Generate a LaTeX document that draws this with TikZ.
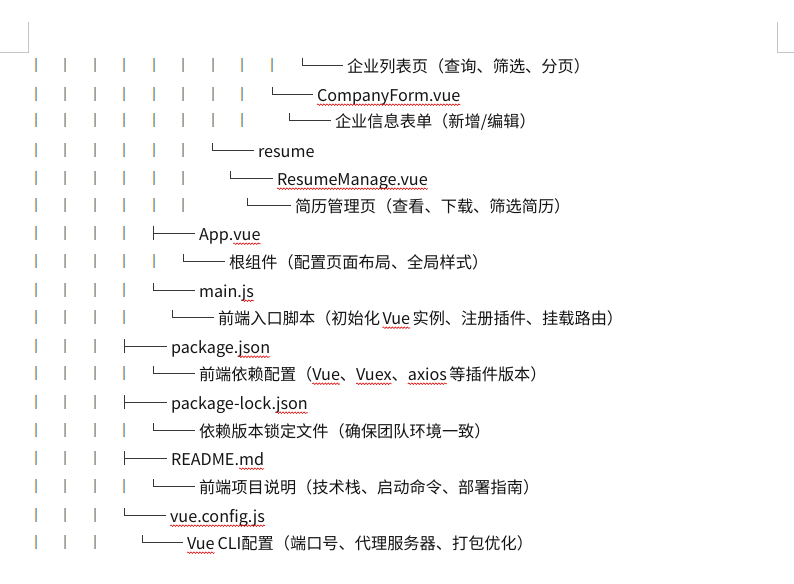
\documentclass[tikz,border=0pt]{standalone}
\usepackage{fontspec}
\setmainfont{Noto Sans CJK SC}
\newfontfamily\cjk{Noto Sans CJK SC}
\usetikzlibrary{calc,decorations.pathmorphing}
\definecolor{ink}{HTML}{141414}
\definecolor{barorange}{HTML}{F5A652}
\definecolor{barblue}{HTML}{5CB2F2}
\definecolor{wavered}{HTML}{E01010}
\definecolor{cornergray}{HTML}{C4C4C4}
\tikzset{
  x=1pt, y=-1pt,
  txt/.style={anchor=base west, inner sep=0pt, outer sep=0pt, text=ink,
    font=\cjk\fontsize{16.2}{19}\selectfont},
  conn/.style={draw=ink!85, line width=0.9pt},
  barO/.style={draw=barorange, line width=1pt},
  barB/.style={draw=barblue, line width=1pt},
  wavy/.style={draw=wavered, line width=0.6pt,
    decorate, decoration={snake, amplitude=0.8pt, segment length=3pt}},
  corner/.style={draw=cornergray, line width=1pt}
}
% bars: #1 = row centre y (image coords), #2 = number of bars
\newcommand{\rowbars}[2]{%
  \foreach \i in {1,...,#2}{%
    \pgfmathsetmacro{\bx}{35.6+29.52*(\i-1)}%
    \draw[barO] (\bx-0.5,#1-9) -- (\bx-0.5,#1+5.3);
    \draw[barB] (\bx+0.5,#1-9) -- (\bx+0.5,#1+5.3);
  }}
% elbow connector: #1 = corner x, #2 = row y, #3 = text node
\newcommand{\elbow}[3]{%
  \draw[conn] (#1,#2-9) |- ($(#3.base west)+(-4.5,-7.5)$);}
% tee connector
\newcommand{\tee}[3]{%
  \draw[conn] (#1,#2+5.3) -- (#1,#2-9);
  \draw[conn] (#1,#2-2) -- ($(#3.base west)+(-4.5,-7.5)$);}
\newcommand{\wav}[1]{%
  \draw[wavy] ($(#1.base west)+(0,3.2)$) -- ($(#1.base east)+(0,3.2)$);}
\begin{document}
\begin{tikzpicture}
\useasboundingbox (0,0) rectangle (794,583);
\fill[white] (0,0) rectangle (794,583);
% page corner marks
\draw[corner] (0,53) -- (28,53) -- (28,22);
\draw[corner] (794,53) -- (777,53) -- (777,22);

% row 1
\rowbars{67}{9}
\node[txt] (t1) at (347,72.5) {企业列表页（查询、筛选、分页）};
\elbow{302}{67}{t1}
% row 2
\rowbars{96}{8}
\node[txt] (t2) at (317,101.5) {CompanyForm.vue};
\elbow{272}{96}{t2}
\wav{t2}
% row 3
\rowbars{122}{8}
\node[txt] (t3) at (335,127.5) {企业信息表单（新增/编辑）};
\elbow{289}{122}{t3}
% row 4
\rowbars{152}{6}
\node[txt] (t4) at (258,157.5) {resume};
\elbow{212.5}{152}{t4}
% row 5
\rowbars{180}{6}
\node[txt] (t5) at (277,185.5) {ResumeManage.vue};
\elbow{230}{180}{t5}
\wav{t5}
% row 6
\rowbars{207}{6}
\node[txt] (t6) at (295,212.5) {简历管理页（查看、下载、筛选简历）};
\elbow{247}{207}{t6}
% row 7
\rowbars{235}{4}
\node[txt] (t7a) at (199,240.5) {App.};
\node[txt] (t7b) at (t7a.base east) {vue};
\tee{153.5}{235}{t7a}
\wav{t7b}
% row 8
\rowbars{263}{5}
\node[txt] (t8) at (229,268.5) {根组件（配置页面布局、全局样式）};
\elbow{183}{263}{t8}
% row 9
\rowbars{292}{4}
\node[txt] (t9a) at (199,297.5) {main.};
\node[txt] (t9b) at (t9a.base east) {js};
\elbow{153.5}{292}{t9a}
\wav{t9b}
% row 10
\rowbars{319}{4}
\node[txt] (t10a) at (218,324.5) {前端入口脚本（初始化};
\node[txt] (t10b) at ([xshift=2.5pt]t10a.base east) {Vue};
\node[txt] (t10c) at ([xshift=2.5pt]t10b.base east) {实例、注册插件、挂载路由）};
\elbow{172}{319}{t10a}
\wav{t10b}
% row 11
\rowbars{348}{3}
\node[txt] (t11a) at (171,353.5) {package.};
\node[txt] (t11b) at (t11a.base east) {json};
\tee{124}{348}{t11a}
\wav{t11b}
% row 12
\rowbars{375}{4}
\node[txt] (t12a) at (199,380.5) {前端依赖配置（};
\node[txt] (t12b) at (t12a.base east) {Vue};
\node[txt] (t12c) at (t12b.base east) {、};
\node[txt] (t12d) at (t12c.base east) {Vuex};
\node[txt] (t12e) at (t12d.base east) {、};
\node[txt] (t12f) at (t12e.base east) {axios};
\node[txt] (t12g) at ([xshift=2.5pt]t12f.base east) {等插件版本）};
\elbow{153.5}{375}{t12a}
\wav{t12b}
\wav{t12d}
\wav{t12f}
% row 13
\rowbars{404}{3}
\node[txt] (t13a) at (171,409.5) {package-lock.};
\node[txt] (t13b) at (t13a.base east) {json};
\tee{124}{404}{t13a}
\wav{t13b}
% row 14
\rowbars{432}{4}
\node[txt] (t14) at (199,437.5) {依赖版本锁定文件（确保团队环境一致）};
\elbow{153.5}{432}{t14}
% row 15
\rowbars{460}{3}
\node[txt] (t15a) at (171,465.5) {README.};
\node[txt] (t15b) at (t15a.base east) {md};
\tee{124}{460}{t15a}
\wav{t15b}
% row 16
\rowbars{488}{4}
\node[txt] (t16) at (199,493.5) {前端项目说明（技术栈、启动命令、部署指南）};
\elbow{153.5}{488}{t16}
% row 17
\rowbars{517}{3}
\node[txt] (t17) at (170,522.5) {vue.config.js};
\elbow{124}{517}{t17}
\wav{t17}
% row 18
\rowbars{544}{3}
\node[txt] (t18a) at (187,549.5) {Vue};
\node[txt] (t18b) at ([xshift=3pt]t18a.base east) {CLI配置（端口号、代理服务器、打包优化）};
\elbow{142}{544}{t18a}
\wav{t18a}
\end{tikzpicture}
\end{document}
